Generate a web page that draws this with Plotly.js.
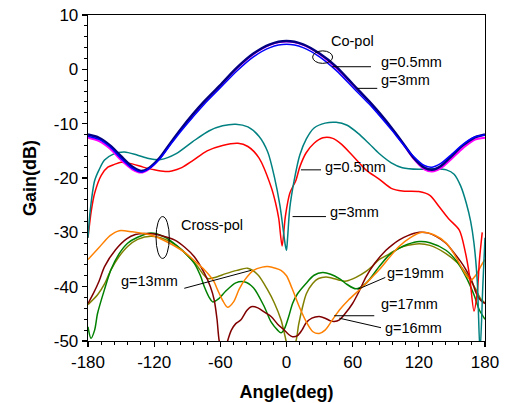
<!DOCTYPE html>
<html>
<head>
<meta charset="utf-8">
<script src="https://cdn.plot.ly/plotly-3.0.1.min.js"></script>
<style>html,body{margin:0;padding:0;background:#fff;}#chart{width:505px;height:403px;}</style>
</head>
<body>
<div id="chart"></div>
<script>
// ---- Co-pol curves ----
var coAngles = [-180,-170,-160,-150,-140,-132,-125,-115,-105,-95,-85,-75,-60,-45,-30,-15,0,15,30,45,60,75,85,95,105,115,125,132,140,150,160,170,180];
var coNavy = [-12,-12.6,-14,-16,-17.9,-18.7,-18.2,-16.3,-13.5,-10.8,-8.3,-6.0,-2.9,0.3,2.9,4.6,5.2,4.6,2.9,0.5,-2.7,-5.9,-8.2,-10.7,-13.4,-16.2,-18.1,-18.5,-17.8,-15.9,-14,-12.6,-12];
var coBlue = [-12.3,-12.9,-14.3,-16.4,-18.2,-18.9,-18.3,-16.5,-13.8,-11.2,-8.8,-6.5,-3.4,-0.3,2.3,4.0,4.6,4.0,2.3,-0.2,-3.3,-6.4,-8.7,-11.1,-13.6,-16.0,-17.7,-18.0,-17.3,-15.6,-13.8,-12.5,-12.1];
var coMagenta = [-12.6,-13.2,-14.6,-16.7,-18.4,-19.0,-18.4,-16.4,-13.6,-10.9,-8.4,-6.1,-3.0,0.2,2.8,4.5,5.1,4.5,2.8,0.3,-2.8,-6.0,-8.3,-10.8,-13.5,-16.4,-18.4,-18.8,-18.2,-16.4,-14.5,-13.0,-12.6];

// ---- g=0.5mm (teal) and g=3mm (red) ----
var tealAngles = [-180,-178,-174,-170,-165,-157,-147,-135,-125,-114,-100,-85,-70,-58,-46,-35,-25,-17,-11,-6,-3,-1,0,1,3,7,12,18,25,35,45,55,65,75,84,95,105,120,135,145,152,158,163,167,170,173,175.5,178,180];
var tealVals = [-31,-26,-20.5,-18.5,-16.7,-15.6,-15.2,-15.8,-16.4,-16.6,-15.5,-13.3,-11.3,-10.4,-10.1,-10.6,-12.3,-15.2,-19.8,-25,-29.5,-32.5,-33.3,-31,-25.5,-20.4,-15.8,-12.8,-10.8,-9.9,-9.75,-10.3,-11.8,-13.7,-15.5,-17.2,-18.1,-18.4,-18.3,-18.5,-19.3,-21.5,-24.6,-28,-32,-39,-52,-40,-31];
var redAngles = [-180,-177,-174,-168,-162,-156,-150,-140,-130,-120,-110,-104,-95,-85,-72,-58,-44,-35,-25,-14,-10,-7,-4,-1,3,8.6,12,17.7,25,33,42,50,60,72,84,95,105,120,130,138.5,147,156.7,162,166,170,173,175,177.5,180];
var redVals = [-31,-26,-22.8,-19.5,-18,-17.5,-17.1,-17.4,-18,-18.5,-18.8,-18.7,-18.1,-16.8,-15,-14,-13.6,-14.2,-16.3,-21.6,-24.5,-27.5,-32.5,-27,-22.8,-20.4,-18,-15.4,-13.6,-12.6,-12.7,-13.8,-15.9,-18.5,-20.2,-21.9,-22.4,-22.5,-23.2,-25.3,-27.5,-29.6,-33.5,-38,-44.5,-41,-35,-30];

// ---- Cross-pol curves ----
var orangeAngles = [-180,-170,-160,-151.6,-140,-123,-110,-93,-82,-74.5,-66,-62.5,-58,-53.4,-48,-43,-38,-30,-22,-17,-10,-5,0,5,11.6,18,24,29.7,35,41,48,56,66,75,84,93,102,112,123,134,145,152,160,164,167.3,172,176,180];
var orangeVals = [-35,-32.8,-30.6,-29.7,-29.9,-30.5,-31.6,-33.6,-35.5,-36.9,-39.0,-40.6,-42.5,-43.8,-42.8,-40.5,-38.8,-37.0,-36.4,-36.3,-36.6,-37,-38,-40.3,-43.7,-46.5,-48.3,-48.6,-48,-46.3,-44.3,-42.5,-40.6,-38.8,-36.9,-34.7,-32.6,-31,-30,-30.5,-32,-34,-36.9,-38.2,-38.8,-37.8,-36.3,-35];
var maroonAngles = [-180,-175,-170,-165,-155,-145,-137,-129,-120,-110,-101.7,-92,-83.6,-74.5,-69,-65.5,-63,-61,-57,-53.4,-50,-46,-41.3,-36,-32,-26,-20,-14,-8,-2,2,5.5,10,14,17.7,23,29.7,35,40,43.3,48,53,59.9,66,72.1,80,90.2,96,102.3,110,120.4,128,136,144.6,152,158,162.8,168,172,176,180];
var maroonVals = [-43.1,-41.2,-39,-36.3,-33.2,-31.2,-30.4,-30.2,-30.3,-30.8,-31.4,-32.8,-34.5,-37.5,-40,-42.5,-46,-50,-53,-50,-48,-46.8,-46.1,-44.4,-43.7,-43.9,-44.7,-45.5,-46.9,-48,-48.8,-49.2,-49,-48,-46.7,-45.8,-45.5,-45.8,-46.3,-46.4,-46.1,-45,-43.1,-40.8,-38.2,-35.7,-33.3,-32.3,-31.4,-30.6,-30.0,-30.1,-30.8,-32.0,-33.8,-35.4,-36.9,-38.9,-41.2,-42.5,-43.1];
var greenAngles = [-180,-177.3,-174,-171.3,-165,-159.2,-152,-144.1,-135,-122.9,-110,-98.7,-90,-83.6,-78,-74.5,-70,-67,-62,-55,-46,-38.3,-30,-20.1,-14,-8.1,-5,-2,2,5.5,10,17.7,25,32.7,40,47.9,55,63,72,84.1,93,102.3,110,120.4,130,144.6,155,162.8,170,174.9,180];
var greenVals = [-47.4,-49.5,-48,-44.9,-40.5,-36.9,-34,-32,-30.9,-30.1,-30.9,-32.6,-34.2,-35.7,-38,-40,-42,-42.8,-42.3,-40.8,-39.3,-39.1,-40.2,-43.7,-46.5,-48,-48.5,-47.8,-45.5,-43.1,-41.3,-39.4,-37.9,-37.4,-37.7,-38.5,-39.6,-40.4,-39.4,-36.3,-34.2,-32.9,-32.2,-31.7,-31.9,-33.3,-35.5,-38.2,-41.5,-44.3,-46];
var oliveAngles = [-180,-171.3,-165,-159.2,-152,-144.1,-135,-122.9,-110,-98.7,-90,-80.6,-76,-71.6,-65,-55,-45,-35.3,-26,-17.1,-11,-5,-2,1,4,8.6,11,14.6,18,23.7,29,35.8,41,47.9,53,57,63,72.1,78,84.1,93,102.3,110,120.4,130,144.6,155,162.8,168,171.9,176,180];
var oliveVals = [-43.3,-41.5,-39.5,-36.9,-34.5,-32.6,-31.3,-30.7,-31.3,-32.6,-34.2,-36.3,-37.6,-38.5,-38.3,-37.6,-37,-36.6,-37.8,-40.6,-43,-46.1,-48.5,-51,-52,-50,-47,-43.7,-41.3,-39.4,-38.5,-38.2,-38.4,-38.8,-39,-38.8,-38.3,-37.2,-36.2,-35.0,-34,-32.9,-32.4,-32.1,-32.4,-33.9,-35.6,-37.5,-39.2,-40.6,-42.2,-43];

// ---- Tick labels ----
var xTicks = [-180,-120,-60,0,60,120,180];
var yTicks = [10,0,-10,-20,-30,-40,-50];

function tr(x, y, color, width) {
  return {x: x, y: y, type: 'scatter', mode: 'lines',
    line: {color: color, width: width, shape: 'spline', smoothing: 0.8},
    hoverinfo: 'skip', showlegend: false};
}

var data = [
  tr(oliveAngles, oliveVals, '#808000', 1.5),
  tr(greenAngles, greenVals, '#008000', 1.5),
  tr(maroonAngles, maroonVals, '#800000', 1.5),
  tr(orangeAngles, orangeVals, '#ff8000', 1.5),
  tr(redAngles, redVals, '#ff0000', 1.5),
  tr(tealAngles, tealVals, '#008080', 1.5),
  tr(coAngles, coMagenta, '#ff00ff', 2),
  tr(coAngles, coNavy, '#000080', 2.5),
  tr(coAngles, coBlue, '#0000ff', 1.5)
];

var FONT = 'Arial, "Liberation Sans", sans-serif';
var txt = function(x, y, s) {
  return {x: x, y: y, xref: 'x', yref: 'y', text: s, showarrow: false,
    xanchor: 'left', yanchor: 'middle', font: {family: FONT, size: 14.5, color: '#000'}};
};
var seg = function(x0, y0, x1, y1) {
  return {type: 'line', xref: 'x', yref: 'y', x0: x0, y0: y0, x1: x1, y1: y1,
    line: {color: '#000', width: 1}};
};
var ell = function(x0, y0, x1, y1) {
  return {type: 'circle', xref: 'x', yref: 'y', x0: x0, y0: y0, x1: x1, y1: y1,
    line: {color: '#000', width: 1}};
};

var layout = {
  width: 505, height: 403,
  margin: {l: 88, r: 20, t: 15, b: 62},
  paper_bgcolor: '#fff', plot_bgcolor: '#fff',
  showlegend: false,
  font: {family: FONT, color: '#000'},
  xaxis: {
    range: [-180, 180], tickvals: xTicks, ticktext: xTicks.map(String),
    showgrid: false, zeroline: false,
    showline: true, linecolor: '#000', linewidth: 1.3, mirror: true,
    ticks: 'outside', ticklen: 5, tickwidth: 1.2, tickcolor: '#000',
    tickfont: {family: FONT, size: 17, color: '#000'},
    minor: {dtick: 12, ticks: 'outside', ticklen: 3, tickwidth: 1, tickcolor: '#000', showgrid: false},
    title: {text: '<b>Angle(deg)</b>', font: {family: FONT, size: 18, color: '#000'}, standoff: 14}
  },
  yaxis: {
    range: [-50, 10], tickvals: yTicks, ticktext: yTicks.map(String),
    showgrid: false, zeroline: false,
    showline: true, linecolor: '#000', linewidth: 1.3, mirror: true,
    ticks: 'outside', ticklen: 5, tickwidth: 1.2, tickcolor: '#000',
    tickfont: {family: FONT, size: 17, color: '#000'},
    minor: {dtick: 2, ticks: 'outside', ticklen: 3, tickwidth: 1, tickcolor: '#000', showgrid: false},
    title: {text: '<b>Gain(dB)</b>', font: {family: FONT, size: 18, color: '#000'}, standoff: 12}
  },
  annotations: [
    txt(38.8, 5.2, 'Co-pol'),
    txt(84.1, 1.4, 'g=0.5mm'),
    txt(84.1, -1.96, 'g=3mm'),
    txt(32.7, -17.9, 'g=0.5mm'),
    txt(37.3, -26.2, 'g=3mm'),
    txt(-97.1, -28.65, 'Cross-pol'),
    txt(-151.6, -39.0, 'g=13mm'),
    txt(89.6, -37.4, 'g=19mm'),
    txt(84.1, -43.25, 'g=17mm'),
    txt(87.1, -47.55, 'g=16mm')
  ],
  shapes: [
    ell(23.7, 1.1, 41.8, 3.4),
    seg(41.5, 0.48, 76.6, 0.48),
    seg(64.2, -3.5, 82.3, -3.5),
    seg(13.1, -18.5, 31.3, -18.5),
    seg(5.5, -27.1, 35.8, -27.1),
    ell(-118.3, -34.8, -106.3, -27.1),
    seg(-92.7, -40.3, -32.2, -37.0),
    seg(64.5, -40.5, 89.6, -38.3),
    seg(43.3, -45.35, 79.6, -45.35),
    seg(47.9, -45.8, 85.7, -47.55)
  ]
};

Plotly.newPlot('chart', data, layout, {displayModeBar: false, staticPlot: true});
</script>
</body>
</html>
